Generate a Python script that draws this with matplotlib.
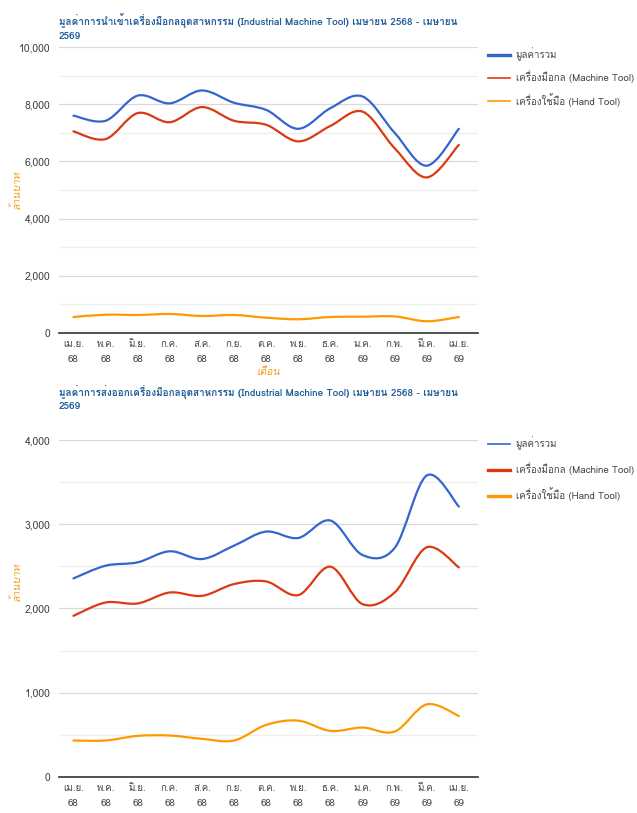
import matplotlib
matplotlib.use("Agg")
import matplotlib.pyplot as plt
from matplotlib import font_manager
from matplotlib.path import Path
from matplotlib.patches import PathPatch
from matplotlib.lines import Line2D
import numpy as np

months = ["เม.ย.\n68", "พ.ค.\n68", "มิ.ย.\n68", "ก.ค.\n68", "ส.ค.\n68", "ก.ย.\n68",
          "ต.ค.\n68", "พ.ย.\n68", "ธ.ค.\n68", "ม.ค.\n69", "ก.พ.\n69", "มี.ค.\n69", "เม.ย.\n69"]

series_names = ["มูลค่ารวม", "เครื่องมือกล (Machine Tool)", "เครื่องใช้มือ (Hand Tool)"]

# import, million baht
import_total = [7600, 7420, 8300, 8030, 8480, 8050, 7800, 7140, 7860, 8270, 7000, 5850, 7140]
import_machine = [7050, 6780, 7690, 7370, 7900, 7420, 7280, 6700, 7240, 7740, 6460, 5440, 6580]
import_hand = [560, 640, 630, 665, 595, 630, 535, 480, 560, 570, 580, 410, 560]

# export, million baht
export_total = [2357, 2508, 2548, 2679, 2587, 2746, 2913, 2837, 3044, 2635, 2718, 3579, 3210]
export_machine = [1913, 2071, 2060, 2190, 2150, 2290, 2321, 2159, 2496, 2052, 2190, 2726, 2488]
export_hand = [433, 433, 488, 492, 453, 433, 618, 669, 547, 587, 539, 862, 724]

title_import = "มูลค่าการนำเข้าเครื่องมือกลอุตสาหกรรม (Industrial Machine Tool) เมษายน 2568 - เมษายน\n2569"
title_export = "มูลค่าการส่งออกเครื่องมือกลอุตสาหกรรม (Industrial Machine Tool) เมษายน 2568 - เมษายน\n2569"

colors = ["#3366cc", "#dc3912", "#ff9900"]


def find_thai_font():
    from fontTools.ttLib import TTFont
    for entry in font_manager.fontManager.ttflist:
        try:
            font = TTFont(entry.fname, fontNumber=0, lazy=True)
            cmap = font.getBestCmap()
        except Exception:
            continue
        if cmap and 0x0E21 in cmap and 0x0E49 in cmap:
            return entry.name
    return None


thai = find_thai_font()
families = [thai, "DejaVu Sans"] if thai else ["DejaVu Sans"]
plt.rcParams["font.family"] = families


def smooth_line(ax, x, y, color, lw):
    # catmull-rom through the data points, drawn as bezier in data coords
    pts = np.column_stack([x, y]).astype(float)
    verts = [pts[0]]
    codes = [Path.MOVETO]
    n = len(pts)
    for i in range(n - 1):
        p0 = pts[i - 1] if i > 0 else pts[i]
        p1 = pts[i]
        p2 = pts[i + 1]
        p3 = pts[i + 2] if i + 2 < n else pts[i + 1]
        c1 = p1 + (p2 - p0) / 6.0
        c2 = p2 - (p3 - p1) / 6.0
        verts += [c1, c2, p2]
        codes += [Path.CURVE4] * 3
    ax.add_patch(PathPatch(Path(verts, codes), fill=False, edgecolor=color,
                           lw=lw, capstyle="round", joinstyle="round"))


def draw_chart(ax, data, ymax, major, minor, title, legend_lw, xlabel,
               title_pad, ylabel_y, legend_top, legend_gap):
    x = np.arange(len(months))
    for vals, c in zip(data, colors):
        smooth_line(ax, x, vals, c, 1.6)
    ax.set_xlim(-0.45, len(months) - 0.4)
    ax.set_ylim(0, ymax)
    ax.set_yticks(np.arange(0, ymax + 1, major))
    ax.set_yticks(np.arange(0, ymax + 1, minor), minor=True)
    ax.set_yticklabels([f"{v:,}" for v in np.arange(0, ymax + 1, major)])
    ax.grid(axis="y", which="major", color="#d9d9d9", lw=0.9)
    ax.grid(axis="y", which="minor", color="#eeeeee", lw=0.9)
    ax.set_axisbelow(True)
    ax.set_xticks(x)
    ax.set_xticklabels(months, fontsize=7, color="#444444", linespacing=1.9)
    ax.tick_params(axis="y", which="both", length=0, labelsize=7.5, labelcolor="#444444", pad=6)
    ax.tick_params(axis="x", length=0, pad=5)
    for s in ["top", "right", "left"]:
        ax.spines[s].set_visible(False)
    ax.spines["bottom"].set_color("#333333")
    ax.spines["bottom"].set_linewidth(1.2)
    ax.set_ylabel("ล้านบาท", color="#f39c12", fontsize=7.5, style="italic")
    ax.yaxis.set_label_coords(-0.088, ylabel_y)
    if xlabel:
        ax.set_xlabel(xlabel, color="#f39c12", fontsize=7.5, style="italic", labelpad=2)
    ax.set_title(title, loc="left", fontsize=7.2, fontweight="bold", color="#1f5c99",
                 pad=title_pad, x=0.0, linespacing=1.35)
    handles = [Line2D([], [], color=c, lw=w) for c, w in zip(colors, legend_lw)]
    ax.legend(handles, series_names, loc="upper left", bbox_to_anchor=(1.015, legend_top),
              frameon=False, fontsize=7, labelcolor="#444444", handlelength=2.2,
              handletextpad=0.6, labelspacing=legend_gap, borderaxespad=0)


fig = plt.figure(figsize=(6.37, 8.13), dpi=100, facecolor="white")
ax1 = fig.add_axes([0.0926, 0.5904, 0.658, 0.3518])
ax2 = fig.add_axes([0.0926, 0.0443, 0.658, 0.4145])

draw_chart(ax1, [import_total, import_machine, import_hand], 10000, 2000, 1000,
           title_import, [2.4, 1.2, 1.2], "เดือน", 6, 0.5, 1.012, 0.95)
draw_chart(ax2, [export_total, export_machine, export_hand], 4000, 1000, 500,
           title_export, [1.2, 2.4, 2.4], None, 22, 0.58, 1.022, 1.25)

fig.savefig("out.png", dpi=100)
plt.close(fig)
